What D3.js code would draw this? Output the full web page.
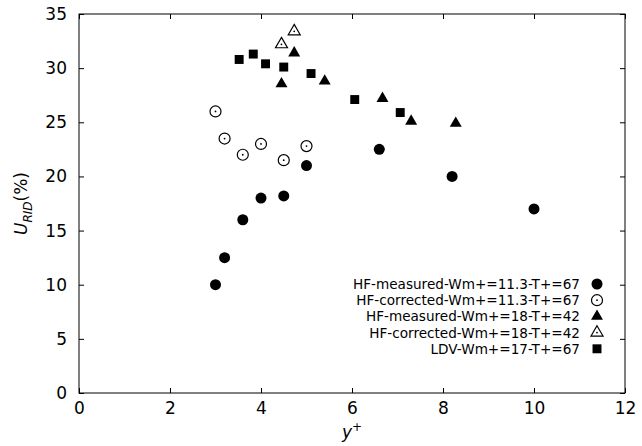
<!DOCTYPE html>
<html>
<head>
<meta charset="utf-8">
<script src="https://cdn.jsdelivr.net/npm/d3@7"></script>
<style>
  body { margin: 0; background: #fff; }
  svg { display: block; font-family: "DejaVu Sans", sans-serif; }
</style>
</head>
<body>
<svg id="chart" width="642" height="446"></svg>
<script>
// data: [y+, U_RID %]
var hfMeasured113 = [[3.0, 10], [3.2, 12.5], [3.6, 16], [4.0, 18], [4.5, 18.2], [5.0, 21], [6.6, 22.5], [8.2, 20], [10.0, 17]];
var hfCorrected113 = [[3.0, 26], [3.2, 23.5], [3.6, 22], [4.0, 23], [4.5, 21.5], [5.0, 22.8]];
var hfMeasured18 = [[4.45, 28.55], [4.73, 31.4], [5.4, 28.8], [6.67, 27.2], [7.3, 25.1], [8.28, 24.9]];
var hfCorrected18 = [[4.45, 32.2], [4.73, 33.4]];
var ldv17 = [[3.52, 30.8], [3.83, 31.3], [4.1, 30.4], [4.5, 30.1], [5.1, 29.5], [6.06, 27.1], [7.06, 25.9]];

var seriesNames = ["HF-measured-Wm+=11.3-T+=67", "HF-corrected-Wm+=11.3-T+=67", "HF-measured-Wm+=18-T+=42", "HF-corrected-Wm+=18-T+=42", "LDV-Wm+=17-T+=67"];
var xTicks = [0, 2, 4, 6, 8, 10, 12];
var yTicks = [0, 5, 10, 15, 20, 25, 30, 35];

var series = [
  {name: seriesNames[0], data: hfMeasured113, shape: "circle", open: false},
  {name: seriesNames[1], data: hfCorrected113, shape: "circle", open: true},
  {name: seriesNames[2], data: hfMeasured18, shape: "triangle", open: false},
  {name: seriesNames[3], data: hfCorrected18, shape: "triangle", open: true},
  {name: seriesNames[4], data: ldv17, shape: "square", open: false}
];

// plot box (note: "top" is taken by window.top, so prefixed names)
var boxLeft = 79, boxRight = 625, boxTop = 14, boxBottom = 393;

var svg = d3.select('#chart');

var x = d3.scaleLinear().domain([0, 12]).range([boxLeft, boxRight]);
var y = d3.scaleLinear().domain([0, 35]).range([boxBottom, boxTop]);

// axes, ticks pointing inward, mirrored on top and right
svg.append("g")
    .attr("transform", "translate(0," + boxBottom + ")")
    .call(d3.axisBottom(x).tickValues(xTicks).tickSize(-5).tickSizeOuter(0).tickPadding(9))
    .call(function(g) { g.select(".domain").remove(); })
    .selectAll("text").style("font-size", "17px").attr("fill", "#000");

svg.append("g")
    .attr("transform", "translate(" + boxLeft + ",0)")
    .call(d3.axisLeft(y).tickValues(yTicks).tickSize(-5).tickSizeOuter(0).tickPadding(12))
    .call(function(g) { g.select(".domain").remove(); })
    .selectAll("text").style("font-size", "17px").attr("fill", "#000");

svg.append("g")
    .attr("transform", "translate(0," + boxTop + ")")
    .call(d3.axisTop(x).tickValues(xTicks).tickSize(-5).tickFormat(""))
    .call(function(g) { g.select(".domain").remove(); });

svg.append("g")
    .attr("transform", "translate(" + boxRight + ",0)")
    .call(d3.axisRight(y).tickValues(yTicks).tickSize(-5).tickFormat(""))
    .call(function(g) { g.select(".domain").remove(); });

svg.selectAll(".tick line").attr("stroke", "#000");
svg.selectAll("g").attr("font-family", null);

svg.append("rect")
    .attr("x", boxLeft).attr("y", boxTop)
    .attr("width", boxRight - boxLeft).attr("height", boxBottom - boxTop)
    .attr("fill", "none").attr("stroke", "#000").attr("stroke-width", 1);

// axis titles
var xlab = svg.append("text")
    .attr("x", (boxLeft + boxRight) / 2).attr("y", 438)
    .attr("text-anchor", "middle")
    .style("font-size", "17px");
xlab.append("tspan").style("font-style", "italic").text("y");
xlab.append("tspan").attr("dy", -7).style("font-size", "12px").text("+");

var ylab = svg.append("text")
    .attr("transform", "translate(27," + ((boxTop + boxBottom) / 2) + ") rotate(-90)")
    .attr("text-anchor", "middle")
    .style("font-size", "17px");
ylab.append("tspan").style("font-style", "italic").text("U");
ylab.append("tspan").attr("dy", 5).style("font-size", "12px").style("font-style", "italic").text("RID");
ylab.append("tspan").attr("dy", -5).text("(%)");

var symbols = {
  circle: d3.symbol().type(d3.symbolCircle).size(95),
  triangle: d3.symbol().type(d3.symbolTriangle).size(62),
  square: d3.symbol().type(d3.symbolSquare).size(80)
};

function drawMarker(g, s, px, py) {
  g.append("path")
      .attr("transform", "translate(" + px + "," + py + ")")
      .attr("d", symbols[s.shape]())
      .attr("fill", s.open ? "#fff" : "#000")
      .attr("stroke", "#000")
      .attr("stroke-width", s.open ? 1.2 : 0);
  if (s.open) {
    g.append("circle").attr("cx", px).attr("cy", py).attr("r", 0.9).attr("fill", "#000");
  }
}

series.forEach(function(s) {
  var g = svg.append("g");
  s.data.forEach(function(d) { drawMarker(g, s, x(d[0]), y(d[1])); });
});

// legend
var legend = svg.append("g");
series.forEach(function(s, i) {
  var ly = 284 + i * 16.2;
  legend.append("text")
      .attr("x", 580).attr("y", ly + 5)
      .attr("text-anchor", "end")
      .style("font-size", "13.6px")
      .text(s.name);
  drawMarker(legend, s, 597, ly);
});
</script>
</body>
</html>
